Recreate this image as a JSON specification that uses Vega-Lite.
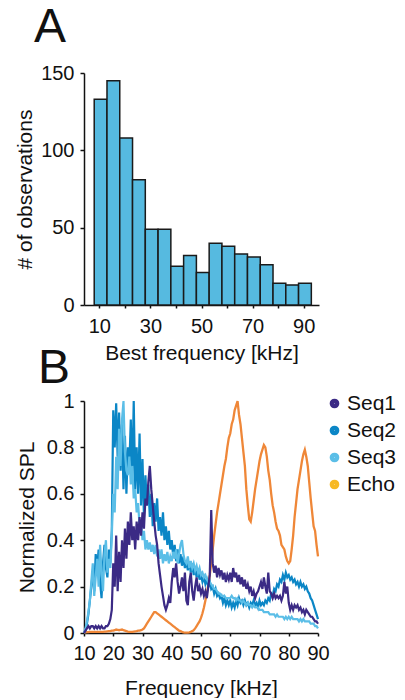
{
  "$schema": "https://vega.github.io/schema/vega-lite/v6.json",
  "padding": {"left": 14, "top": 4, "right": 0, "bottom": 0},
  "bounds": "flush",
  "spacing": 96,
  "resolve": {"legend": {"color": "independent"}, "scale": {"color": "independent"}},
  "config": {
    "font": "Liberation Sans",
    "view": {"stroke": null},
    "axis": {
      "grid": false,
      "domainColor": "#111111",
      "domainWidth": 1.5,
      "tickColor": "#111111",
      "tickWidth": 1.5,
      "tickSize": 4,
      "labelColor": "#111111",
      "titleColor": "#111111",
      "labelFontSize": 20,
      "titleFontSize": 21,
      "titleFontWeight": "normal",
      "labelPadding": 6,
      "labelOverlap": false
    },
    "legend": {"labelFontSize": 21, "labelColor": "#111111"},
    "title": {"fontWeight": "normal", "color": "#111111"}
  },
  "datasets": {
    "hist": [
      {"bin_start": 8, "bin_end": 13, "count": 133},
      {"bin_start": 13, "bin_end": 18, "count": 145},
      {"bin_start": 18, "bin_end": 23, "count": 108},
      {"bin_start": 23, "bin_end": 28, "count": 81},
      {"bin_start": 28, "bin_end": 33, "count": 49},
      {"bin_start": 33, "bin_end": 38, "count": 49},
      {"bin_start": 38, "bin_end": 43, "count": 25},
      {"bin_start": 43, "bin_end": 48, "count": 32},
      {"bin_start": 48, "bin_end": 53, "count": 21},
      {"bin_start": 53, "bin_end": 58, "count": 40},
      {"bin_start": 58, "bin_end": 63, "count": 38},
      {"bin_start": 63, "bin_end": 68, "count": 33},
      {"bin_start": 68, "bin_end": 73, "count": 31},
      {"bin_start": 73, "bin_end": 78, "count": 26},
      {"bin_start": 78, "bin_end": 83, "count": 14},
      {"bin_start": 83, "bin_end": 88, "count": 13},
      {"bin_start": 88, "bin_end": 93, "count": 14}
    ],
    "spec": [
      {"f":10,"Seq1":0.00,"Seq2":0.00,"Seq3":0.00,"Echo":0.000},
      {"f":10.5,"Seq1":0.01,"Seq2":0.01,"Seq3":0.02,"Echo":0.003},
      {"f":11,"Seq1":0.02,"Seq2":0.04,"Seq3":0.05,"Echo":0.004},
      {"f":11.5,"Seq1":0.03,"Seq2":0.08,"Seq3":0.09,"Echo":0.004},
      {"f":12,"Seq1":0.02,"Seq2":0.14,"Seq3":0.14,"Echo":0.005},
      {"f":12.5,"Seq1":0.03,"Seq2":0.20,"Seq3":0.22,"Echo":0.005},
      {"f":13,"Seq1":0.03,"Seq2":0.26,"Seq3":0.30,"Echo":0.005},
      {"f":13.5,"Seq1":0.02,"Seq2":0.18,"Seq3":0.16,"Echo":0.005},
      {"f":14,"Seq1":0.03,"Seq2":0.34,"Seq3":0.24,"Echo":0.005},
      {"f":14.5,"Seq1":0.02,"Seq2":0.28,"Seq3":0.32,"Echo":0.005},
      {"f":15,"Seq1":0.03,"Seq2":0.36,"Seq3":0.20,"Echo":0.005},
      {"f":15.5,"Seq1":0.02,"Seq2":0.22,"Seq3":0.38,"Echo":0.005},
      {"f":16,"Seq1":0.03,"Seq2":0.15,"Seq3":0.26,"Echo":0.005},
      {"f":16.5,"Seq1":0.02,"Seq2":0.30,"Seq3":0.18,"Echo":0.005},
      {"f":17,"Seq1":0.02,"Seq2":0.38,"Seq3":0.34,"Echo":0.006},
      {"f":17.5,"Seq1":0.03,"Seq2":0.28,"Seq3":0.40,"Echo":0.006},
      {"f":18,"Seq1":0.03,"Seq2":0.24,"Seq3":0.26,"Echo":0.007},
      {"f":18.5,"Seq1":0.04,"Seq2":0.36,"Seq3":0.32,"Echo":0.008},
      {"f":19,"Seq1":0.06,"Seq2":0.30,"Seq3":0.28,"Echo":0.008},
      {"f":19.5,"Seq1":0.10,"Seq2":0.44,"Seq3":0.42,"Echo":0.010},
      {"f":20,"Seq1":0.30,"Seq2":0.96,"Seq3":0.60,"Echo":0.010},
      {"f":20.5,"Seq1":0.20,"Seq2":0.80,"Seq3":0.52,"Echo":0.012},
      {"f":21,"Seq1":0.42,"Seq2":0.99,"Seq3":0.76,"Echo":0.015},
      {"f":21.5,"Seq1":0.18,"Seq2":0.76,"Seq3":0.62,"Echo":0.014},
      {"f":22,"Seq1":0.35,"Seq2":0.95,"Seq3":0.88,"Echo":0.012},
      {"f":22.5,"Seq1":0.22,"Seq2":0.70,"Seq3":0.72,"Echo":0.014},
      {"f":23,"Seq1":0.40,"Seq2":0.90,"Seq3":0.92,"Echo":0.015},
      {"f":23.5,"Seq1":0.28,"Seq2":0.62,"Seq3":1.00,"Echo":0.012},
      {"f":24,"Seq1":0.45,"Seq2":0.85,"Seq3":0.78,"Echo":0.010},
      {"f":24.5,"Seq1":0.32,"Seq2":0.60,"Seq3":0.70,"Echo":0.008},
      {"f":25,"Seq1":0.48,"Seq2":0.80,"Seq3":0.68,"Echo":0.006},
      {"f":25.5,"Seq1":0.38,"Seq2":0.72,"Seq3":0.76,"Echo":0.005},
      {"f":26,"Seq1":0.52,"Seq2":0.92,"Seq3":0.64,"Echo":0.005},
      {"f":26.5,"Seq1":0.40,"Seq2":0.65,"Seq3":0.72,"Echo":0.005},
      {"f":27,"Seq1":0.46,"Seq2":1.00,"Seq3":0.58,"Echo":0.006},
      {"f":27.5,"Seq1":0.36,"Seq2":0.62,"Seq3":0.62,"Echo":0.007},
      {"f":28,"Seq1":0.48,"Seq2":0.80,"Seq3":0.52,"Echo":0.008},
      {"f":28.5,"Seq1":0.40,"Seq2":0.60,"Seq3":0.56,"Echo":0.010},
      {"f":29,"Seq1":0.50,"Seq2":0.86,"Seq3":0.46,"Echo":0.010},
      {"f":29.5,"Seq1":0.42,"Seq2":0.55,"Seq3":0.48,"Echo":0.012},
      {"f":30,"Seq1":0.52,"Seq2":0.75,"Seq3":0.40,"Echo":0.015},
      {"f":30.5,"Seq1":0.45,"Seq2":0.50,"Seq3":0.44,"Echo":0.020},
      {"f":31,"Seq1":0.58,"Seq2":0.68,"Seq3":0.36,"Echo":0.030},
      {"f":31.5,"Seq1":0.55,"Seq2":0.55,"Seq3":0.40,"Echo":0.040},
      {"f":32,"Seq1":0.65,"Seq2":0.64,"Seq3":0.36,"Echo":0.050},
      {"f":32.5,"Seq1":0.72,"Seq2":0.50,"Seq3":0.39,"Echo":0.060},
      {"f":33,"Seq1":0.62,"Seq2":0.60,"Seq3":0.35,"Echo":0.070},
      {"f":33.5,"Seq1":0.55,"Seq2":0.46,"Seq3":0.38,"Echo":0.080},
      {"f":34,"Seq1":0.48,"Seq2":0.56,"Seq3":0.34,"Echo":0.090},
      {"f":34.5,"Seq1":0.42,"Seq2":0.48,"Seq3":0.38,"Echo":0.090},
      {"f":35,"Seq1":0.38,"Seq2":0.58,"Seq3":0.33,"Echo":0.085},
      {"f":35.5,"Seq1":0.30,"Seq2":0.44,"Seq3":0.36,"Echo":0.080},
      {"f":36,"Seq1":0.25,"Seq2":0.50,"Seq3":0.32,"Echo":0.075},
      {"f":36.5,"Seq1":0.20,"Seq2":0.42,"Seq3":0.36,"Echo":0.070},
      {"f":37,"Seq1":0.16,"Seq2":0.52,"Seq3":0.30,"Echo":0.065},
      {"f":37.5,"Seq1":0.12,"Seq2":0.40,"Seq3":0.34,"Echo":0.060},
      {"f":38,"Seq1":0.10,"Seq2":0.46,"Seq3":0.31,"Echo":0.055},
      {"f":38.5,"Seq1":0.12,"Seq2":0.38,"Seq3":0.35,"Echo":0.050},
      {"f":39,"Seq1":0.15,"Seq2":0.44,"Seq3":0.30,"Echo":0.045},
      {"f":39.5,"Seq1":0.13,"Seq2":0.36,"Seq3":0.33,"Echo":0.040},
      {"f":40,"Seq1":0.22,"Seq2":0.40,"Seq3":0.31,"Echo":0.035},
      {"f":40.5,"Seq1":0.28,"Seq2":0.33,"Seq3":0.35,"Echo":0.030},
      {"f":41,"Seq1":0.24,"Seq2":0.38,"Seq3":0.32,"Echo":0.025},
      {"f":41.5,"Seq1":0.30,"Seq2":0.31,"Seq3":0.36,"Echo":0.020},
      {"f":42,"Seq1":0.22,"Seq2":0.36,"Seq3":0.30,"Echo":0.015},
      {"f":42.5,"Seq1":0.17,"Seq2":0.30,"Seq3":0.34,"Echo":0.010},
      {"f":43,"Seq1":0.20,"Seq2":0.34,"Seq3":0.38,"Echo":0.008},
      {"f":43.5,"Seq1":0.24,"Seq2":0.29,"Seq3":0.40,"Echo":0.005},
      {"f":44,"Seq1":0.18,"Seq2":0.33,"Seq3":0.34,"Echo":0.003},
      {"f":44.5,"Seq1":0.26,"Seq2":0.28,"Seq3":0.31,"Echo":0.002},
      {"f":45,"Seq1":0.14,"Seq2":0.31,"Seq3":0.30,"Echo":0.002},
      {"f":45.5,"Seq1":0.12,"Seq2":0.27,"Seq3":0.33,"Echo":0.002},
      {"f":46,"Seq1":0.22,"Seq2":0.31,"Seq3":0.28,"Echo":0.003},
      {"f":46.5,"Seq1":0.26,"Seq2":0.26,"Seq3":0.31,"Echo":0.005},
      {"f":47,"Seq1":0.18,"Seq2":0.30,"Seq3":0.28,"Echo":0.008},
      {"f":47.5,"Seq1":0.14,"Seq2":0.25,"Seq3":0.30,"Echo":0.012},
      {"f":48,"Seq1":0.20,"Seq2":0.28,"Seq3":0.27,"Echo":0.020},
      {"f":48.5,"Seq1":0.24,"Seq2":0.24,"Seq3":0.29,"Echo":0.030},
      {"f":49,"Seq1":0.18,"Seq2":0.27,"Seq3":0.26,"Echo":0.040},
      {"f":49.5,"Seq1":0.20,"Seq2":0.23,"Seq3":0.28,"Echo":0.050},
      {"f":50,"Seq1":0.17,"Seq2":0.25,"Seq3":0.25,"Echo":0.065},
      {"f":50.5,"Seq1":0.19,"Seq2":0.22,"Seq3":0.26,"Echo":0.085},
      {"f":51,"Seq1":0.16,"Seq2":0.24,"Seq3":0.24,"Echo":0.110},
      {"f":51.5,"Seq1":0.18,"Seq2":0.21,"Seq3":0.25,"Echo":0.140},
      {"f":52,"Seq1":0.15,"Seq2":0.23,"Seq3":0.23,"Echo":0.170},
      {"f":52.5,"Seq1":0.20,"Seq2":0.20,"Seq3":0.22,"Echo":0.210},
      {"f":53,"Seq1":0.25,"Seq2":0.22,"Seq3":0.22,"Echo":0.250},
      {"f":53.5,"Seq1":0.53,"Seq2":0.19,"Seq3":0.21,"Echo":0.300},
      {"f":54,"Seq1":0.30,"Seq2":0.20,"Seq3":0.20,"Echo":0.360},
      {"f":54.5,"Seq1":0.26,"Seq2":0.17,"Seq3":0.19,"Echo":0.420},
      {"f":55,"Seq1":0.29,"Seq2":0.19,"Seq3":0.19,"Echo":0.470},
      {"f":55.5,"Seq1":0.24,"Seq2":0.16,"Seq3":0.18,"Echo":0.520},
      {"f":56,"Seq1":0.28,"Seq2":0.17,"Seq3":0.17,"Echo":0.560},
      {"f":56.5,"Seq1":0.25,"Seq2":0.15,"Seq3":0.17,"Echo":0.600},
      {"f":57,"Seq1":0.27,"Seq2":0.16,"Seq3":0.16,"Echo":0.640},
      {"f":57.5,"Seq1":0.23,"Seq2":0.13,"Seq3":0.16,"Echo":0.680},
      {"f":58,"Seq1":0.26,"Seq2":0.15,"Seq3":0.16,"Echo":0.720},
      {"f":58.5,"Seq1":0.22,"Seq2":0.12,"Seq3":0.15,"Echo":0.750},
      {"f":59,"Seq1":0.25,"Seq2":0.14,"Seq3":0.15,"Echo":0.800},
      {"f":59.5,"Seq1":0.23,"Seq2":0.12,"Seq3":0.15,"Echo":0.840},
      {"f":60,"Seq1":0.26,"Seq2":0.14,"Seq3":0.15,"Echo":0.860},
      {"f":60.5,"Seq1":0.22,"Seq2":0.11,"Seq3":0.16,"Echo":0.900},
      {"f":61,"Seq1":0.28,"Seq2":0.13,"Seq3":0.15,"Echo":0.920},
      {"f":61.5,"Seq1":0.24,"Seq2":0.11,"Seq3":0.15,"Echo":0.960},
      {"f":62,"Seq1":0.26,"Seq2":0.14,"Seq3":0.14,"Echo":0.980},
      {"f":62.5,"Seq1":0.22,"Seq2":0.12,"Seq3":0.15,"Echo":1.000},
      {"f":63,"Seq1":0.25,"Seq2":0.15,"Seq3":0.14,"Echo":0.940},
      {"f":63.5,"Seq1":0.21,"Seq2":0.13,"Seq3":0.14,"Echo":0.900},
      {"f":64,"Seq1":0.24,"Seq2":0.14,"Seq3":0.13,"Echo":0.840},
      {"f":64.5,"Seq1":0.20,"Seq2":0.12,"Seq3":0.14,"Echo":0.780},
      {"f":65,"Seq1":0.23,"Seq2":0.14,"Seq3":0.13,"Echo":0.720},
      {"f":65.5,"Seq1":0.19,"Seq2":0.12,"Seq3":0.12,"Echo":0.620},
      {"f":66,"Seq1":0.21,"Seq2":0.13,"Seq3":0.13,"Echo":0.550},
      {"f":66.5,"Seq1":0.18,"Seq2":0.11,"Seq3":0.12,"Echo":0.490},
      {"f":67,"Seq1":0.20,"Seq2":0.13,"Seq3":0.12,"Echo":0.480},
      {"f":67.5,"Seq1":0.16,"Seq2":0.12,"Seq3":0.11,"Echo":0.520},
      {"f":68,"Seq1":0.18,"Seq2":0.14,"Seq3":0.12,"Echo":0.570},
      {"f":68.5,"Seq1":0.15,"Seq2":0.12,"Seq3":0.11,"Echo":0.620},
      {"f":69,"Seq1":0.17,"Seq2":0.13,"Seq3":0.11,"Echo":0.660},
      {"f":69.5,"Seq1":0.18,"Seq2":0.11,"Seq3":0.11,"Echo":0.700},
      {"f":70,"Seq1":0.20,"Seq2":0.14,"Seq3":0.10,"Echo":0.740},
      {"f":70.5,"Seq1":0.22,"Seq2":0.12,"Seq3":0.10,"Echo":0.770},
      {"f":71,"Seq1":0.19,"Seq2":0.13,"Seq3":0.10,"Echo":0.790},
      {"f":71.5,"Seq1":0.24,"Seq2":0.12,"Seq3":0.09,"Echo":0.810},
      {"f":72,"Seq1":0.20,"Seq2":0.14,"Seq3":0.09,"Echo":0.800},
      {"f":72.5,"Seq1":0.17,"Seq2":0.13,"Seq3":0.09,"Echo":0.760},
      {"f":73,"Seq1":0.26,"Seq2":0.15,"Seq3":0.09,"Echo":0.700},
      {"f":73.5,"Seq1":0.18,"Seq2":0.14,"Seq3":0.08,"Echo":0.660},
      {"f":74,"Seq1":0.17,"Seq2":0.17,"Seq3":0.08,"Echo":0.600},
      {"f":74.5,"Seq1":0.15,"Seq2":0.16,"Seq3":0.08,"Echo":0.550},
      {"f":75,"Seq1":0.17,"Seq2":0.19,"Seq3":0.08,"Echo":0.520},
      {"f":75.5,"Seq1":0.15,"Seq2":0.18,"Seq3":0.07,"Echo":0.480},
      {"f":76,"Seq1":0.16,"Seq2":0.21,"Seq3":0.08,"Echo":0.450},
      {"f":76.5,"Seq1":0.15,"Seq2":0.20,"Seq3":0.07,"Echo":0.440},
      {"f":77,"Seq1":0.16,"Seq2":0.23,"Seq3":0.07,"Echo":0.420},
      {"f":77.5,"Seq1":0.14,"Seq2":0.22,"Seq3":0.07,"Echo":0.380},
      {"f":78,"Seq1":0.16,"Seq2":0.25,"Seq3":0.07,"Echo":0.370},
      {"f":78.5,"Seq1":0.22,"Seq2":0.23,"Seq3":0.06,"Echo":0.360},
      {"f":79,"Seq1":0.17,"Seq2":0.26,"Seq3":0.07,"Echo":0.330},
      {"f":79.5,"Seq1":0.20,"Seq2":0.24,"Seq3":0.06,"Echo":0.310},
      {"f":80,"Seq1":0.13,"Seq2":0.25,"Seq3":0.07,"Echo":0.300},
      {"f":80.5,"Seq1":0.10,"Seq2":0.23,"Seq3":0.06,"Echo":0.310},
      {"f":81,"Seq1":0.12,"Seq2":0.24,"Seq3":0.07,"Echo":0.360},
      {"f":81.5,"Seq1":0.10,"Seq2":0.22,"Seq3":0.06,"Echo":0.420},
      {"f":82,"Seq1":0.12,"Seq2":0.23,"Seq3":0.06,"Echo":0.500},
      {"f":82.5,"Seq1":0.11,"Seq2":0.21,"Seq3":0.06,"Echo":0.560},
      {"f":83,"Seq1":0.12,"Seq2":0.22,"Seq3":0.06,"Echo":0.620},
      {"f":83.5,"Seq1":0.10,"Seq2":0.20,"Seq3":0.05,"Echo":0.660},
      {"f":84,"Seq1":0.11,"Seq2":0.22,"Seq3":0.06,"Echo":0.700},
      {"f":84.5,"Seq1":0.09,"Seq2":0.20,"Seq3":0.05,"Echo":0.740},
      {"f":85,"Seq1":0.10,"Seq2":0.21,"Seq3":0.06,"Echo":0.770},
      {"f":85.5,"Seq1":0.08,"Seq2":0.19,"Seq3":0.05,"Echo":0.790},
      {"f":86,"Seq1":0.10,"Seq2":0.20,"Seq3":0.05,"Echo":0.760},
      {"f":86.5,"Seq1":0.09,"Seq2":0.18,"Seq3":0.05,"Echo":0.720},
      {"f":87,"Seq1":0.08,"Seq2":0.17,"Seq3":0.05,"Echo":0.650},
      {"f":87.5,"Seq1":0.07,"Seq2":0.15,"Seq3":0.04,"Echo":0.580},
      {"f":88,"Seq1":0.07,"Seq2":0.14,"Seq3":0.04,"Echo":0.520},
      {"f":88.5,"Seq1":0.06,"Seq2":0.12,"Seq3":0.04,"Echo":0.460},
      {"f":89,"Seq1":0.05,"Seq2":0.10,"Seq3":0.03,"Echo":0.440},
      {"f":89.5,"Seq1":0.05,"Seq2":0.08,"Seq3":0.03,"Echo":0.380},
      {"f":90,"Seq1":0.04,"Seq2":0.06,"Seq3":0.02,"Echo":0.330}
    ]
  },
  "vconcat": [
    {
      "width": 235,
      "height": 232,
      "title": {"text": "A", "fontSize": 48, "anchor": "start", "frame": "group", "dx": -50, "baseline": "alphabetic", "offset": -27},
      "data": {"name": "hist"},
      "mark": {"type": "bar", "fill": "#56bae0", "stroke": "#1a1a1a", "strokeWidth": 1.5},
      "encoding": {
        "x": {
          "field": "bin_start", "type": "quantitative",
          "scale": {"domain": [4, 96], "nice": false, "zero": false},
          "axis": {"values": [10, 20, 30, 40, 50, 60, 70, 80, 90], "labelExpr": "datum.value % 20 == 10 ? datum.label : ''", "title": "Best frequency [kHz]", "tickSize": 3, "labelPadding": 8, "titlePadding": 6, "labelFlush": false}
        },
        "x2": {"field": "bin_end"},
        "y": {
          "field": "count", "type": "quantitative",
          "scale": {"domain": [0, 150], "nice": false},
          "axis": {"values": [0, 50, 100, 150], "title": "# of observations", "titlePadding": 5, "labelFlush": false}
        },
        "y2": {"datum": 0}
      }
    },
    {
      "width": 234,
      "height": 232,
      "title": {"text": "B", "fontSize": 48, "anchor": "start", "frame": "group", "dx": -46, "baseline": "alphabetic", "offset": -40},
      "data": {"name": "spec"},
      "layer": [
        {
          "mark": {"type": "line", "color": "#ef8738", "strokeWidth": 2.3},
          "encoding": {
            "x": {"field": "f", "type": "quantitative", "scale": {"domain": [10, 90], "nice": false, "zero": false},
              "axis": {"values": [10, 20, 30, 40, 50, 60, 70, 80, 90], "title": "Frequency [kHz]", "tickSize": 3, "labelPadding": 7, "titlePadding": 14, "labelFlush": false, "labelOverlap": false}},
            "y": {"field": "Echo", "type": "quantitative", "scale": {"domain": [0, 1], "nice": false},
              "axis": {"values": [0, 0.2, 0.4, 0.6, 0.8, 1], "format": "~g", "title": "Normalized SPL", "titlePadding": 9, "labelFlush": false}}
          }
        },
        {
          "transform": [{"fold": ["Seq2", "Seq3", "Seq1"], "as": ["series", "v"]}],
          "mark": {"type": "line", "strokeWidth": 2.2},
          "encoding": {
            "x": {"field": "f", "type": "quantitative",
              "axis": {"values": [10, 20, 30, 40, 50, 60, 70, 80, 90], "title": "Frequency [kHz]", "tickSize": 3, "labelPadding": 7, "titlePadding": 14, "labelFlush": false, "labelOverlap": false}},
            "y": {"field": "v", "type": "quantitative", "title": "Normalized SPL"},
            "color": {
              "field": "series", "type": "nominal",
              "scale": {"domain": ["Seq1", "Seq2", "Seq3", "Echo"], "range": ["#3b2a85", "#0b86c6", "#5bbee7", "#f7b924"]},
              "legend": {"title": null, "orient": "none", "legendX": 240, "legendY": -8, "symbolType": "circle", "symbolSize": 20, "symbolStrokeWidth": 5.2, "labelFontSize": 21, "rowPadding": 0, "labelOffset": 2}
            }
          }
        }
      ]
    }
  ]
}
